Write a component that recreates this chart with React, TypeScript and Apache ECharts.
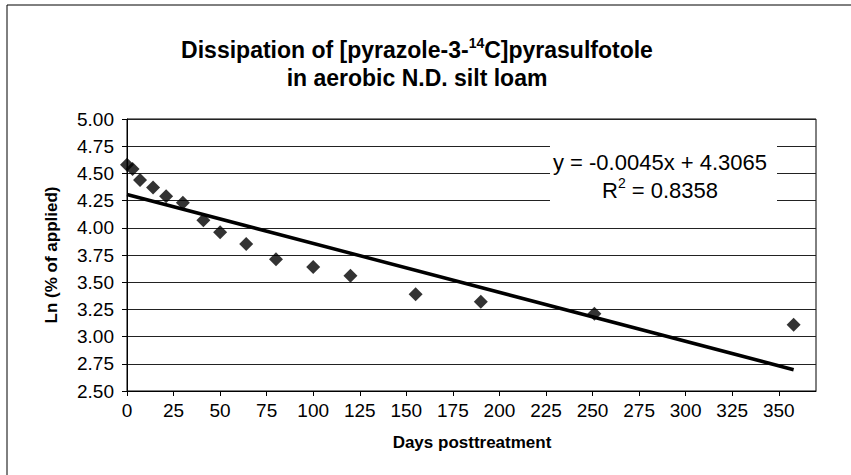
import React, { useEffect, useRef } from "react";
import * as echarts from "echarts";

const days = [0, 3, 7, 14, 21, 30, 41, 50, 64, 80, 100, 120, 155, 190, 251, 358];
const lnApplied = [4.58, 4.54, 4.44, 4.37, 4.29, 4.23, 4.07, 3.96, 3.85, 3.71, 3.64, 3.56, 3.39, 3.32, 3.21, 3.11];
const trendDays = [0, 358];
const trendValues = [4.3065, 2.6955];
const titleLine1 = "Dissipation of [pyrazole-3-{sup|14}C]pyrasulfotole";
const titleLine2 = "in aerobic N.D. silt loam";
const equationText = "y = -0.0045x + 4.3065";
const rSquaredText = "R{sup|2} = 0.8358";
const yAxisTitle = "Ln (% of applied)";
const xAxisTitle = "Days posttreatment";

const FONT = "'Liberation Sans', Arial, Helvetica, sans-serif";

export default function App() {
  const ref = useRef<HTMLDivElement>(null);
  useEffect(() => {
    if (!ref.current) return;
    const chart = echarts.init(ref.current, null, { renderer: "svg" });
    chart.setOption({
      animation: false,
      backgroundColor: "#ffffff",
      textStyle: { fontFamily: FONT },
      grid: { left: 127, top: 119, right: 35, bottom: 84, show: true, borderColor: "#000", borderWidth: 1, backgroundColor: "transparent" },
      xAxis: {
        type: "value",
        min: 0,
        max: 370,
        interval: 25,
        axisLine: { show: true, onZero: false, lineStyle: { color: "#000", width: 1 } },
        axisTick: { show: true, length: 5, lineStyle: { color: "#000" } },
        axisLabel: { showMaxLabel: false, color: "#000", fontSize: 19, fontFamily: FONT, margin: 10 },
        splitLine: { show: false },
      },
      yAxis: {
        type: "value",
        min: 2.5,
        max: 5,
        interval: 0.25,
        axisLine: { show: true, lineStyle: { color: "#000", width: 1 } },
        axisTick: { show: true, length: 5, lineStyle: { color: "#000" } },
        axisLabel: { color: "#000", fontSize: 19, fontFamily: FONT, margin: 13, formatter: (v: number) => v.toFixed(2) },
        splitLine: { show: true, lineStyle: { color: "#222", width: 1 } },
      },
      series: [
        {
          type: "line",
          data: trendDays.map((d, i) => [d, trendValues[i]]),
          showSymbol: false,
          symbol: "none",
          lineStyle: { color: "#000", width: 3.5 },
          z: 3,
        },
        {
          type: "scatter",
          data: days.map((d, i) => [d, lnApplied[i]]),
          symbol: "diamond",
          symbolSize: 14,
          itemStyle: { color: "#000" },
          z: 4,
        },
      ],
      graphic: [
        { type: "line", shape: { x1: 7, y1: 5, x2: 851, y2: 5 }, style: { stroke: "#000", lineWidth: 1 } },
        { type: "line", shape: { x1: 7, y1: 5, x2: 7, y2: 475 }, style: { stroke: "#000", lineWidth: 1 } },
        {
          type: "text",
          x: 417,
          y: 36,
          style: {
            text: titleLine1 + "\n" + titleLine2,
            align: "center",
            fontFamily: FONT,
            fontSize: 23,
            fontWeight: "bold",
            lineHeight: 28,
            fill: "#000",
            rich: {
              sup: { fontSize: 14, fontWeight: "bold", verticalAlign: "top", lineHeight: 14, fontFamily: FONT },
            },
          },
        },
        { type: "rect", shape: { x: 550, y: 139, width: 227, height: 68 }, style: { fill: "#fff" }, z: 10 },
        {
          type: "text",
          x: 660,
          y: 148,
          z: 11,
          style: {
            text: equationText + "\n" + rSquaredText,
            align: "center",
            fontFamily: FONT,
            fontSize: 22,
            lineHeight: 28,
            fill: "#000",
            rich: {
              sup: { fontSize: 14, verticalAlign: "top", lineHeight: 14, fontFamily: FONT },
            },
          },
        },
        {
          type: "text",
          x: 51,
          y: 255,
          rotation: Math.PI / 2,
          style: {
            text: yAxisTitle,
            align: "center",
            verticalAlign: "middle",
            fontFamily: FONT,
            fontSize: 17,
            fontWeight: "bold",
            fill: "#000",
          },
        },
        {
          type: "text",
          x: 472,
          y: 442,
          style: {
            text: xAxisTitle,
            align: "center",
            verticalAlign: "middle",
            fontFamily: FONT,
            fontSize: 17,
            fontWeight: "bold",
            fill: "#000",
          },
        },
      ],
    });
    return () => chart.dispose();
  }, []);
  return <div ref={ref} style={{ position: "fixed", left: 0, top: 0, width: 851, height: 475 }} />;
}
